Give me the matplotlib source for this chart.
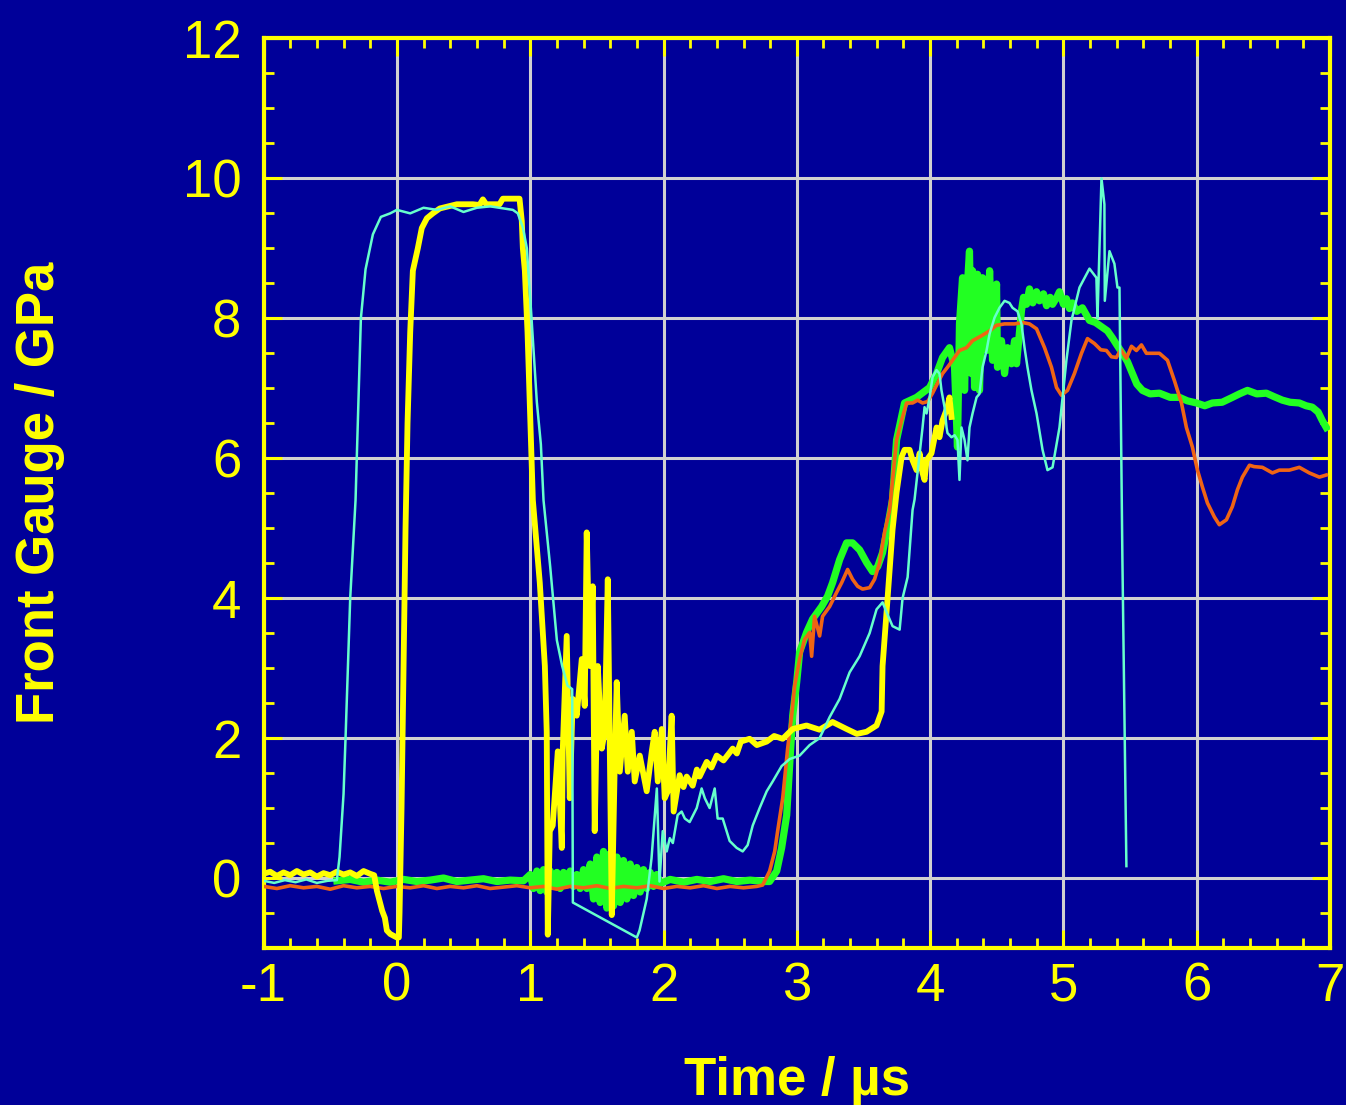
import matplotlib
matplotlib.use("Agg")
import matplotlib.pyplot as plt
from matplotlib.ticker import MultipleLocator

plt.rcParams['font.family'] = 'Liberation Sans'
plt.rcParams['axes.unicode_minus'] = False

# (time / us, front gauge / GPa)
cyan_trace = [
    (-1.00, -0.04), (-0.92, -0.07), (-0.84, -0.03), (-0.76, -0.06), (-0.68, -0.02), (-0.60, -0.07),
    (-0.52, -0.04), (-0.45, -0.03), (-0.43, 0.3), (-0.40, 1.2), (-0.385, 2.0), (-0.35, 4.0),
    (-0.31, 5.4), (-0.27, 8.0), (-0.235, 8.7), (-0.18, 9.2), (-0.12, 9.45), (-0.05, 9.5),
    (0.00, 9.55), (0.10, 9.5), (0.20, 9.58), (0.30, 9.55), (0.40, 9.6), (0.50, 9.52),
    (0.60, 9.58), (0.70, 9.6), (0.80, 9.57), (0.87, 9.55), (0.907, 9.5), (0.945, 9.3),
    (0.975, 9.0), (1.01, 8.0), (1.05, 6.8), (1.08, 6.2), (1.10, 5.4), (1.15, 4.45),
    (1.20, 3.4), (1.24, 3.03), (1.28, 2.75), (1.315, 2.7), (1.32, -0.35), (1.80, -0.85),
    (1.82, -0.75), (1.874, -0.3), (1.91, 0.28), (1.95, 1.28), (1.97, -0.05), (1.994, 0.67),
    (2.024, 0.38), (2.047, 0.57), (2.07, 0.5), (2.106, 0.9), (2.136, 0.95), (2.16, 0.85),
    (2.196, 0.8), (2.249, 1.0), (2.286, 1.28), (2.31, 1.14), (2.346, 1.0), (2.384, 1.28),
    (2.406, 0.85), (2.444, 0.85), (2.496, 0.53), (2.549, 0.43), (2.594, 0.38), (2.631, 0.47),
    (2.669, 0.75), (2.721, 1.0), (2.774, 1.24), (2.819, 1.38), (2.886, 1.6), (2.946, 1.7),
    (3.021, 1.75), (3.096, 1.9), (3.171, 2.0), (3.246, 2.3), (3.321, 2.56), (3.396, 2.94),
    (3.471, 3.17), (3.546, 3.5), (3.598, 3.84), (3.643, 3.94), (3.673, 3.8), (3.718, 3.6),
    (3.771, 3.55), (3.793, 4.0), (3.831, 4.3), (3.868, 5.26), (3.883, 5.41), (3.921, 6.07),
    (3.943, 6.44), (3.958, 6.73), (3.973, 6.64), (3.996, 6.87), (4.018, 7.16), (4.048, 7.26),
    (4.07, 7.21), (4.085, 6.97), (4.108, 6.73), (4.123, 6.44), (4.13, 6.36), (4.16, 6.30),
    (4.183, 6.33), (4.205, 6.26), (4.22, 5.69), (4.235, 6.44), (4.258, 6.26), (4.28, 5.97),
    (4.295, 6.44), (4.318, 6.64), (4.348, 6.87), (4.37, 6.92), (4.393, 7.30), (4.423, 7.54),
    (4.446, 7.78), (4.483, 8.01), (4.52, 8.15), (4.558, 8.25), (4.595, 8.22), (4.618, 8.15),
    (4.655, 8.1), (4.685, 7.92), (4.708, 7.58), (4.73, 7.30), (4.76, 6.97), (4.798, 6.64),
    (4.843, 6.12), (4.88, 5.83), (4.918, 5.87), (4.97, 6.44), (5.022, 7.40), (5.06, 7.97),
    (5.12, 8.44), (5.195, 8.71), (5.247, 8.58), (5.255, 8.0), (5.285, 10.0), (5.307, 9.63),
    (5.31, 8.25), (5.345, 8.96), (5.382, 8.78), (5.405, 8.44), (5.42, 8.44), (5.442, 4.55),
    (5.472, 0.17),
]

yellow_trace = [
    (-1.00, 0.06), (-0.95, 0.09), (-0.90, 0.03), (-0.85, 0.08), (-0.80, 0.04), (-0.75, 0.10),
    (-0.70, 0.05), (-0.65, 0.08), (-0.60, 0.02), (-0.55, 0.07), (-0.50, 0.04), (-0.45, 0.09),
    (-0.40, 0.05), (-0.35, 0.08), (-0.30, 0.03), (-0.25, 0.10), (-0.20, 0.06), (-0.17, 0.04),
    (-0.15, -0.18), (-0.11, -0.47), (-0.09, -0.57), (-0.075, -0.75), (-0.05, -0.8), (0.00, -0.85),
    (0.015, -0.85), (0.02, -0.5), (0.035, 1.0), (0.05, 3.0), (0.065, 5.0), (0.08, 6.5),
    (0.10, 7.8), (0.12, 8.68), (0.157, 9.0), (0.187, 9.29), (0.225, 9.43), (0.27, 9.5),
    (0.322, 9.57), (0.45, 9.63), (0.57, 9.63), (0.62, 9.62), (0.645, 9.7), (0.67, 9.63),
    (0.77, 9.63), (0.795, 9.71), (0.92, 9.71), (0.937, 9.39), (0.945, 9.0), (0.96, 8.68),
    (0.98, 7.8), (1.02, 5.4), (1.072, 4.22), (1.11, 3.03), (1.124, 2.09), (1.132, -0.81),
    (1.147, 0.67), (1.169, 0.75), (1.207, 1.81), (1.237, 0.43), (1.244, 1.81), (1.274, 3.46),
    (1.297, 1.14), (1.319, 2.56), (1.349, 2.32), (1.387, 3.13), (1.409, 2.46), (1.424, 4.94),
    (1.447, 3.03), (1.469, 4.17), (1.484, 0.67), (1.507, 3.03), (1.537, 1.85), (1.559, 2.09),
    (1.582, 4.27), (1.612, -0.53), (1.634, 1.61), (1.649, 2.80), (1.672, 1.52), (1.709, 2.32),
    (1.732, 1.52), (1.762, 2.09), (1.784, 1.38), (1.822, 1.75), (1.874, 1.24), (1.912, 1.81),
    (1.934, 2.09), (1.957, 1.38), (1.987, 2.13), (2.009, 1.14), (2.032, 1.24), (2.061, 2.32),
    (2.076, 0.95), (2.121, 1.47), (2.15, 1.30), (2.174, 1.45), (2.219, 1.32), (2.25, 1.55),
    (2.271, 1.45), (2.324, 1.66), (2.36, 1.58), (2.399, 1.75), (2.45, 1.68), (2.519, 1.85),
    (2.55, 1.78), (2.58, 1.95), (2.646, 1.99), (2.70, 1.90), (2.774, 1.95), (2.83, 2.03),
    (2.894, 1.99), (2.969, 2.13), (3.073, 2.18), (3.17, 2.12), (3.268, 2.23), (3.373, 2.13),
    (3.45, 2.06), (3.523, 2.09), (3.598, 2.18), (3.636, 2.38), (3.643, 3.03), (3.673, 3.80),
    (3.718, 4.98), (3.748, 5.51), (3.786, 6.02), (3.808, 6.12), (3.846, 6.12), (3.868, 5.97),
    (3.898, 5.83), (3.921, 6.07), (3.943, 5.79), (3.958, 5.69), (3.973, 5.97), (4.01, 6.07),
    (4.048, 6.44), (4.07, 6.3), (4.093, 6.54), (4.13, 6.73), (4.145, 6.87), (4.16, 6.59),
]

green_trace = [
    (-0.45, -0.04), (-0.35, -0.02), (-0.25, -0.06), (-0.15, -0.03), (-0.05, -0.06), (0.05, -0.02),
    (0.15, -0.05), (0.25, -0.03), (0.35, 0.0), (0.45, -0.05), (0.55, -0.03), (0.65, -0.01),
    (0.75, -0.05), (0.85, -0.03), (0.95, -0.04), (1.00, 0.05), (1.025, -0.15), (1.05, 0.1),
    (1.075, -0.18), (1.10, 0.12), (1.125, -0.2), (1.15, 0.1), (1.175, -0.12), (1.20, 0.08),
    (1.225, -0.15), (1.25, 0.08), (1.275, -0.1), (1.30, 0.1), (1.325, -0.12), (1.35, 0.05),
    (1.375, -0.15), (1.40, 0.12), (1.425, -0.15), (1.45, 0.2), (1.475, -0.3), (1.50, 0.3),
    (1.525, -0.35), (1.55, 0.38), (1.575, -0.43), (1.60, 0.35), (1.625, -0.4), (1.65, 0.3),
    (1.675, -0.35), (1.70, 0.25), (1.725, -0.3), (1.75, 0.2), (1.775, -0.25), (1.80, 0.15),
    (1.825, -0.2), (1.85, 0.12), (1.875, -0.15), (1.90, 0.08), (1.925, -0.12), (1.95, 0.05),
    (1.975, -0.08), (2.05, -0.02), (2.15, -0.06), (2.25, -0.02), (2.35, -0.05), (2.45, -0.01),
    (2.55, -0.05), (2.65, -0.03), (2.75, -0.05), (2.796, -0.05), (2.849, 0.1), (2.886, 0.43),
    (2.924, 0.90), (2.946, 1.61), (2.969, 2.32), (2.999, 2.80), (3.021, 3.23), (3.073, 3.51),
    (3.118, 3.70), (3.186, 3.88), (3.231, 4.03), (3.268, 4.22), (3.321, 4.55), (3.373, 4.79),
    (3.418, 4.79), (3.471, 4.69), (3.523, 4.51), (3.568, 4.38), (3.606, 4.45), (3.643, 4.65),
    (3.681, 5.02), (3.718, 5.41), (3.748, 6.26), (3.808, 6.79), (3.898, 6.87), (3.996, 7.01),
    (4.048, 7.21), (4.093, 7.44), (4.145, 7.58), (4.183, 7.30), (4.205, 6.16), (4.22, 7.92),
    (4.243, 8.58), (4.258, 6.97), (4.28, 8.49), (4.295, 8.96), (4.31, 7.21), (4.318, 8.68),
    (4.333, 7.01), (4.355, 8.63), (4.37, 6.97), (4.393, 8.58), (4.423, 7.54), (4.446, 8.68),
    (4.468, 7.40), (4.498, 8.49), (4.505, 7.30), (4.535, 7.68), (4.558, 7.21), (4.58, 7.58),
    (4.61, 7.35), (4.633, 7.68), (4.648, 7.35), (4.685, 8.11), (4.70, 8.30), (4.723, 8.20),
    (4.745, 8.42), (4.77, 8.22), (4.798, 8.38), (4.82, 8.25), (4.85, 8.35), (4.873, 8.18),
    (4.90, 8.30), (4.918, 8.20), (4.95, 8.30), (4.97, 8.38), (5.00, 8.20), (5.022, 8.28),
    (5.045, 8.14), (5.067, 8.22), (5.10, 8.10), (5.142, 8.15), (5.195, 7.97), (5.24, 7.94),
    (5.292, 7.87), (5.33, 7.82), (5.367, 7.72), (5.40, 7.62), (5.442, 7.50), (5.48, 7.38),
    (5.517, 7.21), (5.55, 7.06), (5.592, 6.97), (5.65, 6.92), (5.72, 6.93), (5.80, 6.87),
    (5.87, 6.87), (5.93, 6.82), (5.997, 6.79), (6.06, 6.75), (6.117, 6.79), (6.19, 6.80),
    (6.267, 6.87), (6.32, 6.92), (6.38, 6.97), (6.45, 6.92), (6.522, 6.93), (6.58, 6.88),
    (6.642, 6.83), (6.70, 6.80), (6.769, 6.79), (6.82, 6.75), (6.866, 6.73), (6.91, 6.66),
    (6.941, 6.54), (6.971, 6.44),
]

orange_trace = [
    (-1.00, -0.12), (-0.90, -0.15), (-0.80, -0.11), (-0.70, -0.14), (-0.60, -0.12), (-0.50, -0.16),
    (-0.40, -0.11), (-0.30, -0.14), (-0.20, -0.12), (-0.10, -0.15), (0.00, -0.12), (0.10, -0.14),
    (0.20, -0.11), (0.30, -0.15), (0.40, -0.12), (0.50, -0.14), (0.60, -0.11), (0.70, -0.15),
    (0.80, -0.13), (0.90, -0.11), (1.00, -0.14), (1.10, -0.12), (1.20, -0.16), (1.30, -0.12),
    (1.40, -0.14), (1.50, -0.11), (1.60, -0.15), (1.70, -0.12), (1.80, -0.14), (1.90, -0.11),
    (2.00, -0.15), (2.10, -0.12), (2.20, -0.14), (2.30, -0.11), (2.40, -0.15), (2.50, -0.12),
    (2.60, -0.14), (2.70, -0.12), (2.744, -0.10), (2.796, 0.10), (2.834, 0.38), (2.856, 0.67),
    (2.894, 1.14), (2.931, 1.85), (2.961, 2.32), (2.984, 2.75), (3.021, 3.13), (3.058, 3.41),
    (3.096, 3.51), (3.111, 3.17), (3.133, 3.74), (3.171, 3.46), (3.193, 3.74), (3.246, 3.88),
    (3.298, 4.08), (3.336, 4.22), (3.381, 4.41), (3.418, 4.27), (3.456, 4.17), (3.493, 4.13),
    (3.546, 4.15), (3.583, 4.27), (3.621, 4.51), (3.658, 4.94), (3.696, 5.26), (3.718, 5.69),
    (3.748, 6.26), (3.786, 6.54), (3.823, 6.79), (3.868, 6.79), (3.906, 6.83), (3.943, 6.79),
    (3.981, 6.81), (4.018, 6.93), (4.055, 7.07), (4.093, 7.21), (4.13, 7.30), (4.168, 7.40),
    (4.22, 7.54), (4.273, 7.58), (4.318, 7.68), (4.385, 7.75), (4.446, 7.82), (4.498, 7.90),
    (4.558, 7.92), (4.633, 7.92), (4.693, 7.94), (4.745, 7.92), (4.798, 7.85), (4.858, 7.58),
    (4.91, 7.30), (4.948, 7.01), (4.985, 6.90), (5.03, 6.97), (5.082, 7.21), (5.135, 7.50),
    (5.18, 7.71), (5.232, 7.64), (5.28, 7.55), (5.322, 7.54), (5.36, 7.45), (5.397, 7.44),
    (5.43, 7.55), (5.472, 7.43), (5.51, 7.60), (5.547, 7.54), (5.585, 7.62), (5.622, 7.50),
    (5.72, 7.50), (5.78, 7.40), (5.832, 7.11), (5.885, 6.79), (5.922, 6.44), (5.967, 6.16),
    (6.005, 5.83), (6.042, 5.59), (6.08, 5.36), (6.132, 5.16), (6.169, 5.05), (6.222, 5.12),
    (6.267, 5.31), (6.305, 5.55), (6.342, 5.73), (6.395, 5.90), (6.43, 5.88), (6.492, 5.87),
    (6.567, 5.79), (6.619, 5.83), (6.694, 5.83), (6.769, 5.87), (6.844, 5.79), (6.919, 5.73),
    (6.971, 5.76),
]

bg = '#000099'
yel = '#FFFF00'

fig = plt.figure(figsize=(13.46, 11.05), dpi=100, facecolor=bg)
ax = fig.add_axes([0.1958, 0.1421, 0.7924, 0.8231], facecolor=bg)

# drawing order: green under orange under yellow under cyan
traces = [
    (green_trace, '#22FF22', 5.2),
    (orange_trace, '#F06414', 2.6),
    (yellow_trace, yel, 4.2),
    (cyan_trace, '#66FFCC', 1.8),
]
for i, (tr, col, lw) in enumerate(traces):
    t, p = zip(*tr)
    ax.plot(t, p, color=col, lw=lw, zorder=3 + i, solid_joinstyle='round')

ax.set_xlim(-1, 7)
ax.set_ylim(-1, 12)
ax.xaxis.set_major_locator(MultipleLocator(1))
ax.xaxis.set_minor_locator(MultipleLocator(0.2))
ax.yaxis.set_major_locator(MultipleLocator(2))
ax.yaxis.set_minor_locator(MultipleLocator(0.5))

ax.set_axisbelow(True)
ax.grid(which='major', color='#d0d0d0', lw=2.2)

for s in ax.spines.values():
    s.set_color(yel)
    s.set_linewidth(3)

ax.tick_params(which='both', direction='in', top=True, right=True,
               color=yel, labelcolor=yel, labelsize=38)
ax.tick_params(which='major', length=13, width=2.2)
ax.tick_params(which='minor', length=7.5, width=2)
ax.tick_params(axis='x', pad=10)
ax.tick_params(axis='y', pad=16)

fig.text(40 / 1346, 1 - 493 / 1105, 'Front Gauge / GPa', rotation=90,
         ha='center', va='center', fontsize=38, fontweight='bold', color=yel)
fig.text(797 / 1346, 1 - 1095 / 1105, 'Time / µs', ha='center', va='baseline',
         fontsize=38, fontweight='bold', color=yel)

fig.savefig('out.png', dpi=100, facecolor=bg)
